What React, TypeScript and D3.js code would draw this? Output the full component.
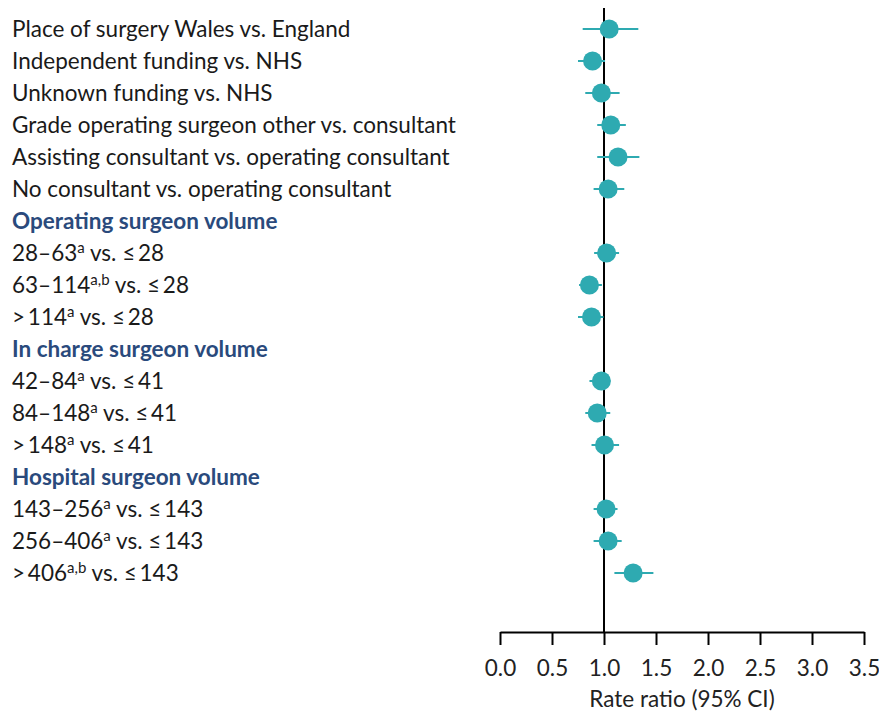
import React, { useEffect, useRef } from "react";
import * as d3 from "d3";

// rows top to bottom; headers have no estimate
const labels = [
  "Place of surgery Wales vs. England",
  "Independent funding vs. NHS",
  "Unknown funding vs. NHS",
  "Grade operating surgeon other vs. consultant",
  "Assisting consultant vs. operating consultant",
  "No consultant vs. operating consultant",
  "Operating surgeon volume",
  "28–63^a^ vs. ≤\u200928",
  "63–114^a,b^ vs. ≤\u200928",
  ">\u2009114^a^ vs. ≤\u200928",
  "In charge surgeon volume",
  "42–84^a^ vs. ≤\u200941",
  "84–148^a^ vs. ≤\u200941",
  ">\u2009148^a^ vs. ≤\u200941",
  "Hospital surgeon volume",
  "143–256^a^ vs. ≤\u2009143",
  "256–406^a^ vs. ≤\u2009143",
  ">\u2009406^a,b^ vs. ≤\u2009143",
];
const isHeader = [false, false, false, false, false, false, true, false, false, false, true, false, false, false, true, false, false, false];
const estimate = [1.05, 0.89, 0.975, 1.065, 1.135, 1.04, null, 1.025, 0.86, 0.88, null, 0.975, 0.935, 1.005, null, 1.02, 1.04, 1.28];
const lower = [0.795, 0.75, 0.82, 0.935, 0.935, 0.9, null, 0.905, 0.76, 0.75, null, 0.86, 0.82, 0.88, null, 0.9, 0.9, 1.1];
const upper = [1.33, 1.01, 1.15, 1.21, 1.34, 1.195, null, 1.145, 0.98, 0.995, null, 1.06, 1.06, 1.145, null, 1.13, 1.17, 1.475];
const ticks = [0, 0.5, 1, 1.5, 2, 2.5, 3, 3.5];

const W = 879;
const H = 713;
const FONT = "Lato, 'Open Sans', sans-serif";
const FS = 22.5;
const TEAL = "#2eaab1";
const NAVY = "#2a4a7c";

function renderLabel(s: string) {
  const parts = s.split("^");
  return parts.map((p, i) =>
    i % 2 === 1 ? (
      <tspan key={i} fontSize={15} dy={-8}>{p}</tspan>
    ) : (
      <tspan key={i} dy={i > 0 ? 8 : 0}>{p}</tspan>
    )
  );
}

export default function App() {
  const axisRef = useRef<SVGGElement>(null);

  const x = d3.scaleLinear().domain([0, 3.5]).range([500, 864]);
  const y = d3.scaleBand<number>().domain(d3.range(labels.length)).range([13, 589]);
  const axisY = 632;

  useEffect(() => {
    const g = d3.select(axisRef.current);
    g.selectAll("*").remove();
    g.call(
      d3.axisBottom(x).tickValues(ticks).tickFormat(d3.format(".1f")).tickSize(13).tickSizeOuter(0).tickPadding(15)
    );
    g.select(".domain").attr("stroke", "#000").attr("stroke-width", 2);
    g.selectAll(".tick line").attr("stroke", "#000").attr("stroke-width", 2);
    g.selectAll(".tick text").attr("font-family", FONT).attr("font-size", FS).attr("fill", "#222");
  }, []);

  return (
    <svg width={W} height={H} style={{ position: "absolute", left: 0, top: 0, background: "#fff" }}>
      {labels.map((l, i) => (
        <text
          key={i}
          x={12}
          y={y(i)! + y.bandwidth() / 2 + 8}
          fontFamily={FONT}
          fontSize={FS}
          fontWeight={isHeader[i] ? 700 : 400}
          fill={isHeader[i] ? NAVY : "#1a1a1a"}
        >
          {renderLabel(l)}
        </text>
      ))}
      <line x1={x(1)} x2={x(1)} y1={8} y2={axisY} stroke="#000" strokeWidth={2} />
      {estimate.map((e, i) =>
        e === null ? null : (
          <g key={i}>
            <line
              x1={x(lower[i]!)}
              x2={x(upper[i]!)}
              y1={y(i)! + y.bandwidth() / 2}
              y2={y(i)! + y.bandwidth() / 2}
              stroke={TEAL}
              strokeWidth={2}
            />
            <circle cx={x(e)} cy={y(i)! + y.bandwidth() / 2} r={9.5} fill={TEAL} />
          </g>
        )
      )}
      <g ref={axisRef} transform={`translate(0,${axisY})`} />
      <text x={x(1.75)} y={707} textAnchor="middle" fontFamily={FONT} fontSize={FS} fill="#222">
        Rate ratio (95% CI)
      </text>
    </svg>
  );
}
